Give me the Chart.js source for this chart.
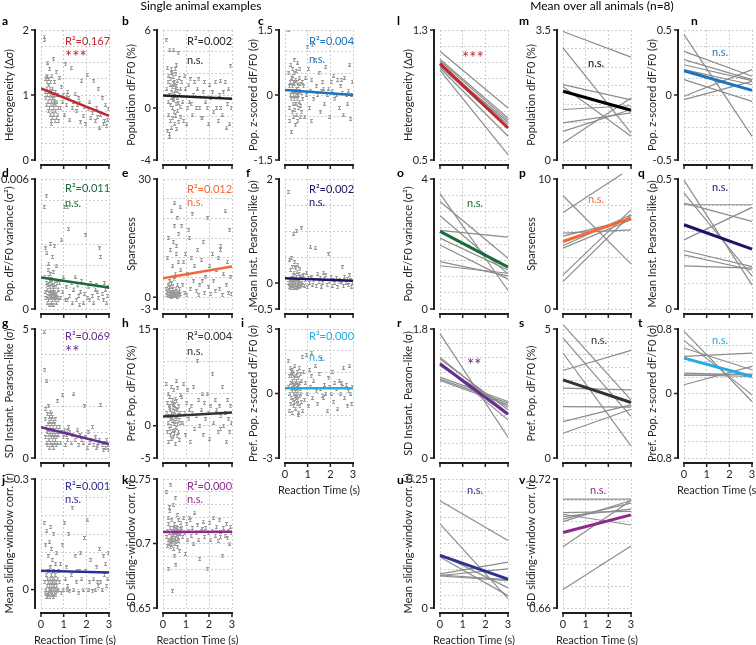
<!DOCTYPE html>
<html>
<head>
<meta charset="utf-8">
<script src="https://cdn.jsdelivr.net/npm/chart.js@4.4.1/dist/chart.umd.min.js"></script>
<style>
  body { margin: 0; background: #fff; }
  #fig { position: relative; width: 756px; height: 645px; overflow: hidden; }
  #fig canvas { position: absolute; left: 0; top: 0; }
</style>
</head>
<body>
<div id="fig"></div>
<script>
// reaction times (s) of the single-animal trials, shared by panels a-k
const RT = [
  0.14, 0.17, 0.19, 0.2, 0.22, 0.23, 0.25, 0.26, 0.27, 0.29,
  0.3, 0.31, 0.32, 0.33, 0.34, 0.36, 0.37, 0.38, 0.39, 0.4,
  0.41, 0.42, 0.43, 0.44, 0.45, 0.46, 0.47, 0.48, 0.49, 0.5,
  0.51, 0.52, 0.53, 0.54, 0.55, 0.56, 0.57, 0.58, 0.6, 0.61,
  0.62, 0.63, 0.64, 0.66, 0.67, 0.69, 0.7, 0.72, 0.74, 0.76,
  0.78, 0.35, 0.45, 0.52, 0.28, 0.58,
  0.82, 0.86, 0.9, 0.95, 0.98, 1.04, 1.08, 1.12, 1.18, 1.22,
  1.27, 1.33, 1.38, 1.45, 1.5, 1.56, 1.6, 1.67, 1.74, 1.8,
  1.86, 1.92, 1.98, 2.03, 2.08, 2.15, 2.2, 2.27, 2.33, 2.4,
  2.46, 2.52, 2.58, 2.63, 2.7, 2.76, 2.8, 2.85, 2.9, 2.94,
  2.97, 1.15, 1.7, 2.5
];

const heteroY = [
  1.9, 1.85, 1.05, 1.25, 0.95, 1.3, 0.85, 1.1, 1.2, 1.0,
  1.5, 0.9, 1.15, 0.75, 1.25, 1.05, 0.8, 1.4, 0.95, 1.1,
  0.7, 1.0, 1.2, 0.85, 0.6, 1.05, 0.9, 1.3, 0.75, 0.95,
  1.1, 0.65, 0.85, 1.0, 1.55, 0.8, 0.7, 0.95, 1.2, 0.9,
  0.6, 1.05, 0.75, 0.85, 1.35, 0.65, 0.9, 1.0, 0.7, 0.8,
  0.6, 1.15, 0.55, 0.98, 1.28, 0.88,
  1.26, 0.8, 1.12, 0.9, 1.0, 0.7, 1.47, 0.85, 1.05, 0.95,
  0.62, 1.42, 0.8, 0.9, 1.02, 0.75, 0.85, 0.95, 0.58, 1.22,
  0.68, 0.82, 0.55, 1.31, 0.78, 0.9, 0.65, 0.72, 1.21, 0.6,
  0.8, 1.09, 0.5, 0.7, 0.95, 0.55, 0.6, 0.85, 0.52, 0.62,
  0.78, 1.0, 0.88, 0.66
];
const popY = [
  5.2, 1.5, 3.1, -1.8, 2.0, 0.5, -0.5, 2.5, 1.0, -2.2,
  4.5, 1.8, 0.2, -1.0, 2.2, 3.0, 0.8, -1.5, 1.2, 2.8,
  0.0, 1.6, -0.8, 2.4, 1.9, 4.5, 0.6, -0.3, 1.1, 2.0,
  -1.2, 0.9, 3.0, 1.4, -0.6, 2.6, 0.3, 1.7, -1.6, 0.8,
  2.1, -0.2, 1.3, 4.2, 0.4, -1.1, 2.3, 1.0, 0.1, 1.5,
  -0.7, 2.7, 0.7, 1.8, -2.0, 3.3,
  2.0, 0.5, -1.0, 2.5, 1.5, -1.2, 0.0, 1.8, 2.2, 0.3,
  -0.5, 1.0, 2.0, 0.0, 1.5, 2.2, 0.0, -0.8, 1.2, 2.0,
  0.5, 0.0, -1.2, 1.8, 0.8, 1.2, -0.3, 2.0, 0.0, -1.0,
  1.0, 0.0, -0.5, 1.2, 2.0, -1.5, 0.3, 1.5, -1.2, 3.2,
  0.0, 0.5, -0.8, 2.1
];
const zPopY = [
  1.5, 0.5, -0.3, 0.2, -0.6, 0.3, 0.0, 0.7, -0.1, -0.85,
  0.4, 0.1, -0.4, 0.2, 0.6, -0.2, 0.3, 0.0, -0.5, 0.8,
  -0.1, 0.25, 0.5, -0.35, 0.1, -0.7, 0.35, 0.0, -0.2, 0.55,
  0.15, -0.45, 0.3, -0.1, 0.75, 0.05, -0.6, 0.2, 0.0, -0.3,
  0.4, -0.15, 0.1, 0.6, -0.5, 0.25, -0.25, 0.05, -0.4, 0.3,
  -0.1, 0.45, -0.2, 0.15, -0.85, 0.0,
  0.2, -0.5, 0.4, 0.0, 1.1, 0.6, -0.3, 0.1, 0.35, 1.15,
  -0.1, 0.8, 0.2, 0.0, 0.5, -0.4, 0.1, 0.3, -0.2, 0.65,
  0.0, 0.15, -0.5, 0.3, 0.1, 0.45, -0.1, 0.0, 0.35, -0.3,
  0.2, 0.05, -0.45, 0.4, 0.0, -0.2, 0.1, 0.7, -0.55, 0.0,
  0.3, -0.6, 0.15, 0.35
];
const varY = [
  0.0047, 0.0015, 0.0008, 0.0028, 0.0005, 0.0052, 0.0012, 0.0026, 0.0003, 0.0009,
  0.0006, 0.0018, 0.0011, 0.0004, 0.0021, 0.0007, 0.0013, 0.0002, 0.0010, 0.0016,
  0.0005, 0.0009, 0.0030, 0.0007, 0.0012, 0.0003, 0.0008, 0.0014, 0.0006, 0.0024,
  0.0010, 0.0004, 0.0007, 0.0017, 0.0009, 0.0002, 0.0011, 0.0005, 0.0029, 0.0008,
  0.0013, 0.0004, 0.0006, 0.0010, 0.0020, 0.0003, 0.0007, 0.0012, 0.0005, 0.0009,
  0.0004, 0.0015, 0.0006, 0.0002, 0.0011, 0.0008,
  0.0012, 0.0005, 0.0032, 0.0008, 0.0015, 0.0047, 0.0004, 0.0010, 0.0047, 0.0037,
  0.0006, 0.0012, 0.0003, 0.0009, 0.0015, 0.0004, 0.0011, 0.0006, 0.0008, 0.0013,
  0.0003, 0.0007, 0.0034, 0.0005, 0.0010, 0.0004, 0.0012, 0.0006, 0.0003, 0.0009,
  0.0011, 0.0005, 0.0028, 0.0024, 0.0007, 0.0004, 0.0012, 0.0009, 0.0003, 0.0006,
  0.0010, 0.0004, 0.0002, 0.0008
];
const sparseY = [
  2, 0.5, 10, 1, 3, 0.2, 15, 1.5, 0.8, 4,
  0.3, 2.5, 12, 0.6, 1.2, 0.1, 3.5, 22, 0.9, 1.8,
  0.4, 8, 2.8, 0.7, 14, 0.2, 1.1, 4.5, 0.5, 18,
  24, 1.3, 0.3, 6, 0.8, 2.2, 11, 0.4, 1.6, 20,
  0.6, 3.2, 0.1, 9, 1.0, 16, 0.5, 2.0, 23, 0.8,
  7, 1.4, 0.2, 5, 2.6, 13,
  18, 3, 9, 1, 11, 0.5, 6, 17, 2, 10,
  21, 4, 8, 1.5, 12, 0.5, 3, 9.5, 14, 1,
  5, 20, 2.5, 8, 0.8, 11, 4, 1.5, 7, 10,
  2, 13, 0.5, 6, 22, 3, 9, 1, 17, 5,
  0.8, 15, 4, 12
];
const rhoY = [
  1.75, 0.0, -0.08, 0.45, 0.05, -0.1, 0.25, 0.02, -0.05, 0.1,
  0.48, -0.02, 0.3, 0.0, -0.09, 0.15, 0.05, 0.95, -0.06, 0.2,
  0.03, -0.1, 0.4, 0.0, 0.08, -0.04, 0.28, 0.01, -0.07, 0.12,
  1.0, 0.05, -0.03, 0.22, -0.1, 0.02, 0.35, -0.05, 0.06, 0.0,
  0.18, -0.08, 0.04, 0.26, -0.02, 0.09, -0.06, 1.05, 0.0, 0.14,
  -0.04, 0.03, 0.3, -0.09, 0.07, 0.01,
  0.15, -0.05, 0.05, 0.2, -0.08, 0.1, 0.0, 0.7, 0.12, -0.03,
  0.05, 0.68, -0.06, 0.18, 0.02, 0.1, -0.07, 0.0, 0.08, 0.15,
  -0.04, 0.55, 0.03, 0.12, -0.05, 0.06, 0.0, 0.1, -0.08, 0.05,
  0.02, 0.3, -0.06, 0.12, 0.0, 0.08, -0.04, 0.15, 0.05, -0.07,
  0.0, 0.1, 0.2, 0.03
];
const sdRhoY = [
  4.9, 3.4, 1.5, 0.8, 1.9, 1.2, 0.6, 3.0, 1.0, 1.7,
  0.5, 1.3, 0.9, 2.0, 1.1, 0.7, 1.6, 1.4, 0.4, 1.2,
  0.9, 1.8, 0.6, 1.0, 1.5, 0.8, 1.3, 0.5, 1.1, 0.9,
  1.6, 0.7, 1.2, 1.0, 0.4, 1.4, 0.8, 1.1, 0.6, 1.3,
  0.9, 1.5, 0.7, 1.0, 0.5, 1.2, 0.8, 2.2, 0.6, 0.9,
  1.1, 0.7, 1.7, 0.5, 1.0, 0.8,
  1.2, 0.6, 1.0, 2.45, 0.8, 1.1, 0.5, 0.9, 0.7, 1.2,
  1.0, 0.6, 0.9, 2.5, 0.7, 0.8, 1.1, 0.5, 0.9, 0.7,
  0.6, 2.0, 0.8, 0.4, 1.0, 0.6, 0.7, 1.2, 0.5, 0.8,
  0.4, 0.6, 0.7, 2.05, 0.5, 0.3, 0.6, 0.4, 0.7, 0.5,
  0.3, 1.05, 0.9, 0.45
];
const prefY = [
  6.5, 2, -1, 3.5, 0.5, 5, -2.5, 1.5, 3, -0.5,
  4.5, 1, 2.5, -1.5, 0, 6, 2, -2, 3.5, 1.2,
  -0.8, 4, 0.8, 2.8, -1.8, 1.8, 5.5, 0.3, 3.2, -1.2,
  2.2, 0.6, 4.2, -2.8, 1.4, 2.6, -0.3, 3.8, 1.0, -1.6,
  2.4, 0.2, 5.8, 1.6, -0.9, 3.0, 0.9, -2.2, 2.0, 4.8,
  0.4, 1.3, 3.4, -0.6, 2.7, 7.0,
  4.5, 0.5, 6.5, 2, -1.5, 3.5, 5.5, 1, -2.5, 3,
  2, 6, -0.5, 1.5, 10, 4, 0, 2.5, -1.5, 3.5,
  1, 5, 2, -2, 3, 8, 0.5, 4, 2.5, -1,
  3, 1.5, 6, 0, 2, -2.5, 4, 1, -1, 3,
  0.5, 2.5, 5, -0.5
];
const prefZY = [
  1.5, 0.3, -0.8, 0.8, 0.0, 1.2, -0.5, 0.5, -0.2, 1.0,
  0.2, -0.9, 0.6, 0.1, 1.1, -0.3, 0.4, -0.6, 0.9, 0.0,
  0.7, -0.4, 0.3, 1.3, -0.1, 0.5, -0.7, 0.2, 0.8, -0.2,
  0.6, 0.0, 1.0, -0.5, 0.4, 0.1, -0.3, 0.7, -0.9, 0.3,
  1.2, -0.1, 0.5, -0.6, 0.2, 0.9, 0.0, -0.4, 0.6, 1.7,
  -0.8, 0.4, 0.1, -0.2, 0.8, -1.0,
  1.0, -0.3, 0.5, 1.8, 0.0, -0.6, 1.1, 0.3, 1.9, -0.2,
  0.6, 1.3, 0.1, -0.5, 0.9, 0.2, 1.6, -0.1, 0.4, 0.0,
  -0.8, 0.7, 0.3, 0.0, 1.0, -0.4, 0.5, 0.2, -0.7, 0.6,
  0.0, 0.3, 1.2, -0.2, 0.4, -0.6, 0.1, 1.3, 0.0, -0.5,
  0.3, 0.8, -0.2, 0.5
];
const slideY = [
  0.18, 0.02, -0.01, 0.12, 0.0, 0.04, -0.02, 0.16, 0.01, 0.03,
  -0.015, 0.09, 0.02, -0.01, 0.05, 0.0, 0.13, 0.01, -0.02, 0.03,
  0.06, -0.005, 0.02, 0.17, 0.0, 0.04, -0.015, 0.01, 0.08, 0.02,
  -0.01, 0.03, 0.0, 0.05, -0.02, 0.15, 0.01, 0.03, -0.01, 0.02,
  0.04, 0.0, 0.07, -0.015, 0.02, 0.1, 0.01, -0.005, 0.03, 0.0,
  0.05, -0.01, 0.11, 0.02, -0.02, 0.01,
  0.02, 0.07, -0.01, 0.12, 0.0, 0.18, 0.03, 0.06, 0.01, 0.15,
  -0.005, 0.04, 0.22, 0.0, 0.09, 0.02, 0.05, -0.01, 0.1, 0.03,
  0.0, 0.14, 0.05, 0.19, 0.0, 0.02, 0.08, -0.005, 0.03, 0.0,
  0.06, 0.01, 0.11, 0.02, 0.0, 0.09, 0.04, 0.07, 0.01, 0.03,
  0.1, 0.0, 0.05, 0.02
];
const sdSlideY = [
  0.74, 0.705, 0.71, 0.698, 0.72, 0.703, 0.715, 0.68, 0.708, 0.7,
  0.725, 0.702, 0.712, 0.697, 0.745, 0.706, 0.71, 0.699, 0.718, 0.704,
  0.663, 0.708, 0.701, 0.73, 0.707, 0.712, 0.696, 0.709, 0.715, 0.69,
  0.703, 0.711, 0.735, 0.704, 0.708, 0.683, 0.713, 0.706, 0.701, 0.722,
  0.709, 0.697, 0.712, 0.705, 0.718, 0.702, 0.708, 0.694, 0.711, 0.707,
  0.716, 0.703, 0.71, 0.7, 0.728, 0.706,
  0.712, 0.705, 0.72, 0.708, 0.692, 0.715, 0.703, 0.71, 0.718, 0.706,
  0.712, 0.7, 0.724, 0.708, 0.714, 0.703, 0.688, 0.71, 0.717, 0.705,
  0.712, 0.68, 0.708, 0.716, 0.703, 0.71, 0.72, 0.706, 0.713, 0.702,
  0.718, 0.709, 0.69, 0.712, 0.706, 0.715, 0.704, 0.71, 0.7, 0.713,
  0.708, 0.72, 0.711, 0.705
];

// regression lines of the single animal: value at RT 0 s and at RT 3 s
const heteroFit = [1.10, 0.68];
const popFit = [0.97, 0.72];
const zPopFit = [0.115, 0.0];
const varFit = [0.00145, 0.00099];
const sparseFit = [4.81, 7.78];
const rhoFit = [0.09, 0.045];
const sdRhoFit = [1.19, 0.54];
const prefFit = [1.42, 2.05];
const prefZFit = [0.25, 0.25];
const slideFit = [0.051, 0.046];
const sdSlideFit = [0.709, 0.7092];

// per-animal fits (n=8): value at 0 s and 3 s, plus the mean fit
const lStart = [1.169, 1.121, 1.111, 1.097, 1.087, 1.077, 1.066, 1.052];
const lEnd = [0.820, 0.758, 0.744, 0.717, 0.732, 0.697, 0.646, 0.533];
const lMean = [1.093, 0.697];
const mStart = [3.46, 3.02, 2.03, 1.97, 1.36, 1.0, 0.77, 0.46];
const mEnd = [2.77, 0.73, 1.62, 0.64, 1.46, 1.27, 1.36, 1.67];
const mMean = [1.85, 1.34];
const nStart = [0.464, 0.336, 0.272, 0.233, 0.195, 0.118, -0.01, -0.036];
const nEnd = [-0.318, 0.144, 0.118, 0.11, 0.079, -0.049, 0.195, 0.105];
const nMean = [0.187, 0.036];
const oStart = [3.55, 3.31, 2.87, 2.42, 2.18, 1.97, 1.46, 1.33];
const oEnd = [0.57, 1.56, 1.08, 2.21, 1.20, 0.92, 1.02, 1.10];
const oMean = [2.39, 1.29];
const pStart = [8.71, 7.43, 5.84, 5.6, 4.86, 4.68, 2.62, 2.11];
const pEnd = [3.47, 10.83, 6.09, 6.9, 7.25, 6.86, 7.63, 7.25];
const pMean = [5.19, 6.99];
const qStart = [0.495, 0.446, 0.407, 0.401, 0.266, 0.225, 0.208, 0.166];
const qEnd = [0.093, 0.127, 0.337, 0.401, 0.391, 0.163, 0.150, 0.157];
const qMean = [0.324, 0.230];
const rStart = [1.735, 1.408, 1.380, 1.324, 1.287, 1.128, 1.100, 1.082];
const rEnd = [0.289, 0.625, 0.672, 0.532, 0.709, 0.788, 0.765, 0.741];
const rMean = [1.315, 0.611];
const sStart = [5.17, 4.65, 4.07, 3.39, 2.71, 1.99, 1.41, 0.96];
const sEnd = [2.25, 1.61, 0.47, 4.17, 2.64, 1.97, 2.06, 1.89];
const sMean = [3.03, 2.15];
const tStart = [0.771, 0.659, 0.564, 0.46, 0.253, 0.232, 0.225, 0.108];
const tEnd = [-0.099, -0.017, 0.294, 0.502, 0.232, 0.211, 0.24, 0.336];
const tMean = [0.439, 0.211];
const uStart = [0.208, 0.163, 0.104, 0.099, 0.066, 0.064, 0.063, 0.062];
const uEnd = [0.131, 0.018, 0.039, 0.024, 0.089, 0.055, 0.076, 0.053];
const uMean = [0.102, 0.056];
const vStart = [0.7106, 0.7044, 0.7036, 0.7025, 0.7013, 0.7002, 0.6885, 0.6686];
const vEnd = [0.7106, 0.7049, 0.6986, 0.706, 0.7088, 0.710, 0.7100, 0.6888];
const vMean = [0.6951, 0.7033];

const X_TICKS = [0, 1, 2, 3];

const FONT = 'Lato, "Open Sans", sans-serif';
const INK = '#231f20';
const RED = '#c1272d', BLUE = '#1c75bc', GREEN = '#1a6b3c', ORANGE = '#f26838';
const NAVY = '#1b1464', PURPLE = '#662d91', DARK = '#333333', SKY = '#27aae1';
const INDIGO = '#2e3192', MAGENTA = '#92278f';

// plot areas in page pixels
const COLS = [[41, 109], [163, 232], [285, 353], [440, 508], [563, 631], [684, 752]];
const ROWS = [[30, 160], [179, 309], [329, 458], [479, 608]];
const LETTER_X = [2, 122, 246, 397, 519, 640];
const LETTER_BASE = [25, 177, 327, 484];

const panels = [
  { L: 'a', c: 0, r: 0, min: 0, max: 2, step: 0.25, ticks: [0, 1, 2], title: 'Heterogeneity (Δσ)',
    color: RED, ys: heteroY, fit: heteroFit, stat: 'R²=0.167', sig: '***', dy: [11, 25],
    sup: ['Single animal examples', 201] },
  { L: 'b', c: 1, r: 0, min: -4, max: 6, step: 10 / 6, ticks: [-4, 0, 6], title: 'Population dF/F0 (%)',
    color: INK, ys: popY, fit: popFit, stat: 'R²=0.002', sig: 'n.s.', dy: [11, 30] },
  { L: 'c', c: 2, r: 0, min: -1.5, max: 1.5, step: 0.5, ticks: [-1.5, 0, 1.5], title: 'Pop. z-scored dF/F0 (σ)',
    color: BLUE, ys: zPopY, fit: zPopFit, stat: 'R²=0.004', sig: 'n.s.', dy: [11, 29], lx: 258 },
  { L: 'd', c: 0, r: 1, min: 0, max: 0.006, step: 0.001, ticks: [0, 0.006], title: 'Pop. dF/F0 variance (σ²)',
    color: GREEN, ys: varY, fit: varFit, stat: 'R²=0.011', sig: 'n.s.', dy: [9, 24] },
  { L: 'e', c: 1, r: 1, min: -3, max: 30, step: 5, anchor: 0, ticks: [-3, 0, 30], title: 'Sparseness',
    color: ORANGE, ys: sparseY, fit: sparseFit, stat: 'R²=0.012', sig: 'n.s.', dy: [10, 23] },
  { L: 'f', c: 2, r: 1, min: -0.5, max: 2, step: 0.5, ticks: [-0.5, 0, 2], title: 'Mean Inst. Pearson-like (ρ)',
    color: NAVY, ys: rhoY, fit: rhoFit, stat: 'R²=0.002', sig: 'n.s.', dy: [10, 23] },
  { L: 'g', c: 0, r: 2, min: 0, max: 5, step: 1, ticks: [0, 5], title: 'SD Instant. Pearson-like (σ)',
    color: PURPLE, ys: sdRhoY, fit: sdRhoFit, stat: 'R²=0.069', sig: '**', dy: [7, 21] },
  { L: 'h', c: 1, r: 2, min: -5, max: 15, step: 5, ticks: [-5, 0, 15], title: 'Pref. Pop. dF/F0 (%)',
    color: DARK, ys: prefY, fit: prefFit, stat: 'R²=0.004', sig: 'n.s.', dy: [7, 22] },
  { L: 'i', c: 2, r: 2, min: -3, max: 3, step: 1, ticks: [-3, 0, 3], title: 'Pref. Pop. z-scored dF/F0 (σ)',
    color: SKY, ys: prefZY, fit: prefZFit, stat: 'R²=0.000', sig: 'n.s.', dy: [7, 28], xLab: true, lx: 241 },
  { L: 'j', c: 0, r: 3, min: -0.05, max: 0.3, step: 0.05, ticks: [0, 0.3], title: 'Mean sliding-window corr. (r)',
    color: INDIGO, ys: slideY, fit: slideFit, stat: 'R²=0.001', sig: 'n.s.', dy: [7, 20], xLab: true },
  { L: 'k', c: 1, r: 3, min: 0.65, max: 0.75, step: 0.01, ticks: [0.65, 0.7, 0.75], title: 'SD sliding-window corr. (r)',
    color: MAGENTA, ys: sdSlideY, fit: sdSlideFit, stat: 'R²=0.000', sig: 'n.s.', dy: [7, 20], xLab: true },

  { L: 'l', c: 3, r: 0, min: 0.5, max: 1.3, step: 0.1, ticks: [0.5, 1.3], title: 'Heterogeneity (Δσ)',
    color: RED, start: lStart, end: lEnd, mean: lMean, sig: '***', sx: 22, sy: 26,
    sup: ['Mean over all animals (n=8)', 602] },
  { L: 'm', c: 4, r: 0, min: 0, max: 3.5, step: 0.5, ticks: [0, 3.5], title: 'Population dF/F0 (%)',
    color: '#000', start: mStart, end: mEnd, mean: mMean, sig: 'n.s.', sx: 25, sy: 33 },
  { L: 'n', c: 5, r: 0, min: -0.5, max: 0.5, step: 0.125, ticks: [-0.5, 0, 0.5], title: 'Pop. z-scored dF/F0 (σ)',
    color: BLUE, start: nStart, end: nEnd, mean: nMean, sig: 'n.s.', sx: 28, sy: 22, lx: 691 },
  { L: 'o', c: 3, r: 1, min: 0, max: 4, step: 0.5, ticks: [0, 4], title: 'Pop. dF/F0 variance (σ²)',
    color: GREEN, start: oStart, end: oEnd, mean: oMean, sig: 'n.s.', sx: 27, sy: 24 },
  { L: 'p', c: 4, r: 1, min: 0, max: 10, step: 2, ticks: [0, 10], title: 'Sparseness',
    color: ORANGE, start: pStart, end: pEnd, mean: pMean, sig: 'n.s.', sx: 25, sy: 20 },
  { L: 'q', c: 5, r: 1, min: 0, max: 0.5, step: 0.1, ticks: [0, 0.5], title: 'Mean Inst. Pearson-like (ρ)',
    color: NAVY, start: qStart, end: qEnd, mean: qMean, sig: 'n.s.', sx: 28, sy: 8, lx: 638 },
  { L: 'r', c: 3, r: 2, min: 0, max: 1.8, step: 0.2, ticks: [0, 1.8], title: 'SD Instant. Pearon-like (σ)',
    color: PURPLE, start: rStart, end: rEnd, mean: rMean, sig: '**', sx: 27, sy: 34 },
  { L: 's', c: 4, r: 2, min: 0, max: 5, step: 0.5, ticks: [0, 5], title: 'Pref. Pop. dF/F0 (%)',
    color: DARK, start: sStart, end: sEnd, mean: sMean, sig: 'n.s.', sx: 28, sy: 11 },
  { L: 't', c: 5, r: 2, min: -0.8, max: 0.8, step: 0.2, ticks: [-0.8, 0, 0.8], title: 'Pref. Pop. z-scored dF/F0 (σ)',
    color: SKY, start: tStart, end: tEnd, mean: tMean, sig: 'n.s.', sx: 28, sy: 11, xLab: true, lx: 638 },
  { L: 'u', c: 3, r: 3, min: 0, max: 0.25, step: 0.025, ticks: [0, 0.25], title: 'Mean sliding-window corr. (r)',
    color: INDIGO, start: uStart, end: uEnd, mean: uMean, sig: 'n.s.', sx: 27, sy: 11, xLab: true },
  { L: 'v', c: 4, r: 3, min: 0.66, max: 0.72, step: 0.01, ticks: [0.66, 0.72], title: 'SD sliding-window corr. (r)',
    color: MAGENTA, start: vStart, end: vEnd, mean: vMean, sig: 'n.s.', sx: 27, sy: 11, xLab: true }
];

function gridValues(p) {
  const a = p.anchor === undefined ? p.min : p.anchor;
  const out = [p.min, p.max];
  for (let k = -60; k <= 60; k++) {
    const v = a + k * p.step;
    if (v > p.min + p.step * 0.01 && v < p.max - p.step * 0.01) out.push(v);
  }
  return out.sort((u, w) => u - w);
}

// little "I" shaped trial marker
function makeMarker() {
  const c = document.createElement('canvas');
  c.width = 3; c.height = 4;
  const g = c.getContext('2d');
  g.fillStyle = '#9a9a9a';
  g.fillRect(1, 0, 1, 4);
  g.fillRect(0, 0, 3, 1);
  g.fillRect(0, 3, 3, 1);
  return c;
}
const MARKER = makeMarker();

function decor(p) {
  return {
    id: 'decor',
    afterDraw(chart) {
      const { ctx, chartArea: ca } = chart;
      const xs = chart.scales.x, ys = chart.scales.y;
      const ax = ca.left - 6, ay = ca.bottom + 5;
      ctx.save();
      ctx.strokeStyle = INK;
      ctx.fillStyle = INK;

      // y axis
      ctx.lineWidth = 2;
      ctx.beginPath();
      ctx.moveTo(ax, ys.getPixelForValue(p.max) - 1);
      ctx.lineTo(ax, ys.getPixelForValue(p.min) + 1);
      ctx.stroke();
      ctx.lineWidth = 1.5;
      ctx.font = '11px ' + FONT;
      ctx.textAlign = 'right';
      ctx.textBaseline = 'middle';
      p.ticks.forEach(v => {
        const py = ys.getPixelForValue(v);
        ctx.beginPath();
        ctx.moveTo(ax, py);
        ctx.lineTo(ax - 4, py);
        ctx.stroke();
        ctx.fillText(String(v), ax - 6, py);
      });

      // x axis
      ctx.lineWidth = 2;
      ctx.beginPath();
      ctx.moveTo(xs.getPixelForValue(0) - 1, ay);
      ctx.lineTo(xs.getPixelForValue(3) + 1, ay);
      ctx.stroke();
      ctx.lineWidth = 1.5;
      ctx.textAlign = 'center';
      X_TICKS.forEach(v => {
        const px = xs.getPixelForValue(v);
        ctx.beginPath();
        ctx.moveTo(px, ay);
        ctx.lineTo(px, ay + 4);
        ctx.stroke();
        if (p.xLab) ctx.fillText(String(v), px, ay + 11);
      });
      if (p.xLab) ctx.fillText('Reaction Time (s)', (ca.left + ca.right) / 2, ay + 27);

      // y title
      ctx.save();
      ctx.translate(ax - 26, (ca.top + ca.bottom) / 2);
      ctx.rotate(-Math.PI / 2);
      ctx.fillText(p.title, 0, 0);
      ctx.restore();

      // stats
      const stars = p.sig.startsWith('*');
      ctx.textAlign = 'left';
      ctx.fillStyle = p.color;
      if (p.stat) {
        ctx.fillText(p.stat, ca.left + 24, ca.top + p.dy[0]);
        ctx.font = (stars ? '17px ' : '11px ') + FONT;
        ctx.fillText(p.sig, ca.left + 24, ca.top + p.dy[1] + (stars ? 3 : 0));
      } else {
        ctx.font = (stars ? '17px ' : '11px ') + FONT;
        ctx.fillText(p.sig, ca.left + p.sx, ca.top + p.sy + (stars ? 3 : 0));
      }

      // panel letter
      ctx.fillStyle = '#000';
      ctx.textBaseline = 'alphabetic';
      ctx.font = 'bold 12px ' + FONT;
      ctx.fillText(p.L, p.lx !== undefined ? p.lx : LETTER_X[p.c], LETTER_BASE[p.r]);

      if (p.sup) {
        ctx.font = '12px ' + FONT;
        ctx.textAlign = 'center';
        ctx.fillText(p.sup[0], p.sup[1], 10);
      }
      ctx.restore();
    }
  };
}

function buildPanel(p) {
  const canvas = document.createElement('canvas');
  canvas.width = 756;
  canvas.height = 645;
  document.getElementById('fig').appendChild(canvas);
  const [left, right] = COLS[p.c];
  const [top, bottom] = ROWS[p.r];

  let datasets;
  if (p.ys) {
    datasets = [
      { data: [{ x: 0, y: p.fit[0] }, { x: 3, y: p.fit[1] }], showLine: true,
        borderColor: p.color, borderWidth: 2.5, pointRadius: 0 },
      { data: RT.map((x, i) => ({ x, y: p.ys[i] })).filter(d => d.y !== undefined),
        pointStyle: MARKER, pointRadius: 3, showLine: false }
    ];
  } else {
    datasets = [{ data: [{ x: 0, y: p.mean[0] }, { x: 3, y: p.mean[1] }], showLine: true,
      borderColor: p.color, borderWidth: 3, pointRadius: 0, clip: 5 }];
    p.start.forEach((s, i) => {
      datasets.push({ data: [{ x: 0, y: s }, { x: 3, y: p.end[i] }], showLine: true,
        borderColor: '#8c8c8c', borderWidth: 1.2, pointRadius: 0, clip: 5 });
    });
  }

  const grid = gridValues(p);
  const gridOpts = { color: '#cccccc', lineWidth: 1, drawTicks: false };
  const borderOpts = { display: false, dash: [2, 2] };

  new Chart(canvas, {
    type: 'scatter',
    data: { datasets },
    options: {
      responsive: false,
      animation: false,
      devicePixelRatio: 1,
      events: [],
      layout: { autoPadding: false, padding: { left, top, right: 756 - right, bottom: 645 - bottom } },
      plugins: { legend: { display: false }, tooltip: { enabled: false } },
      scales: {
        x: {
          type: 'linear', min: 0, max: 3,
          afterBuildTicks: s => { s.ticks = X_TICKS.map(v => ({ value: v })); },
          afterFit: s => { s.height = 0; },
          ticks: { display: false },
          grid: gridOpts, border: borderOpts
        },
        y: {
          type: 'linear', min: p.min, max: p.max,
          afterBuildTicks: s => { s.ticks = grid.map(v => ({ value: v })); },
          afterFit: s => { s.width = 0; },
          ticks: { display: false },
          grid: gridOpts, border: borderOpts
        }
      }
    },
    plugins: [decor(p)]
  });
}

document.addEventListener('DOMContentLoaded', () => {
  panels.forEach(buildPanel);
});
</script>
</body>
</html>
